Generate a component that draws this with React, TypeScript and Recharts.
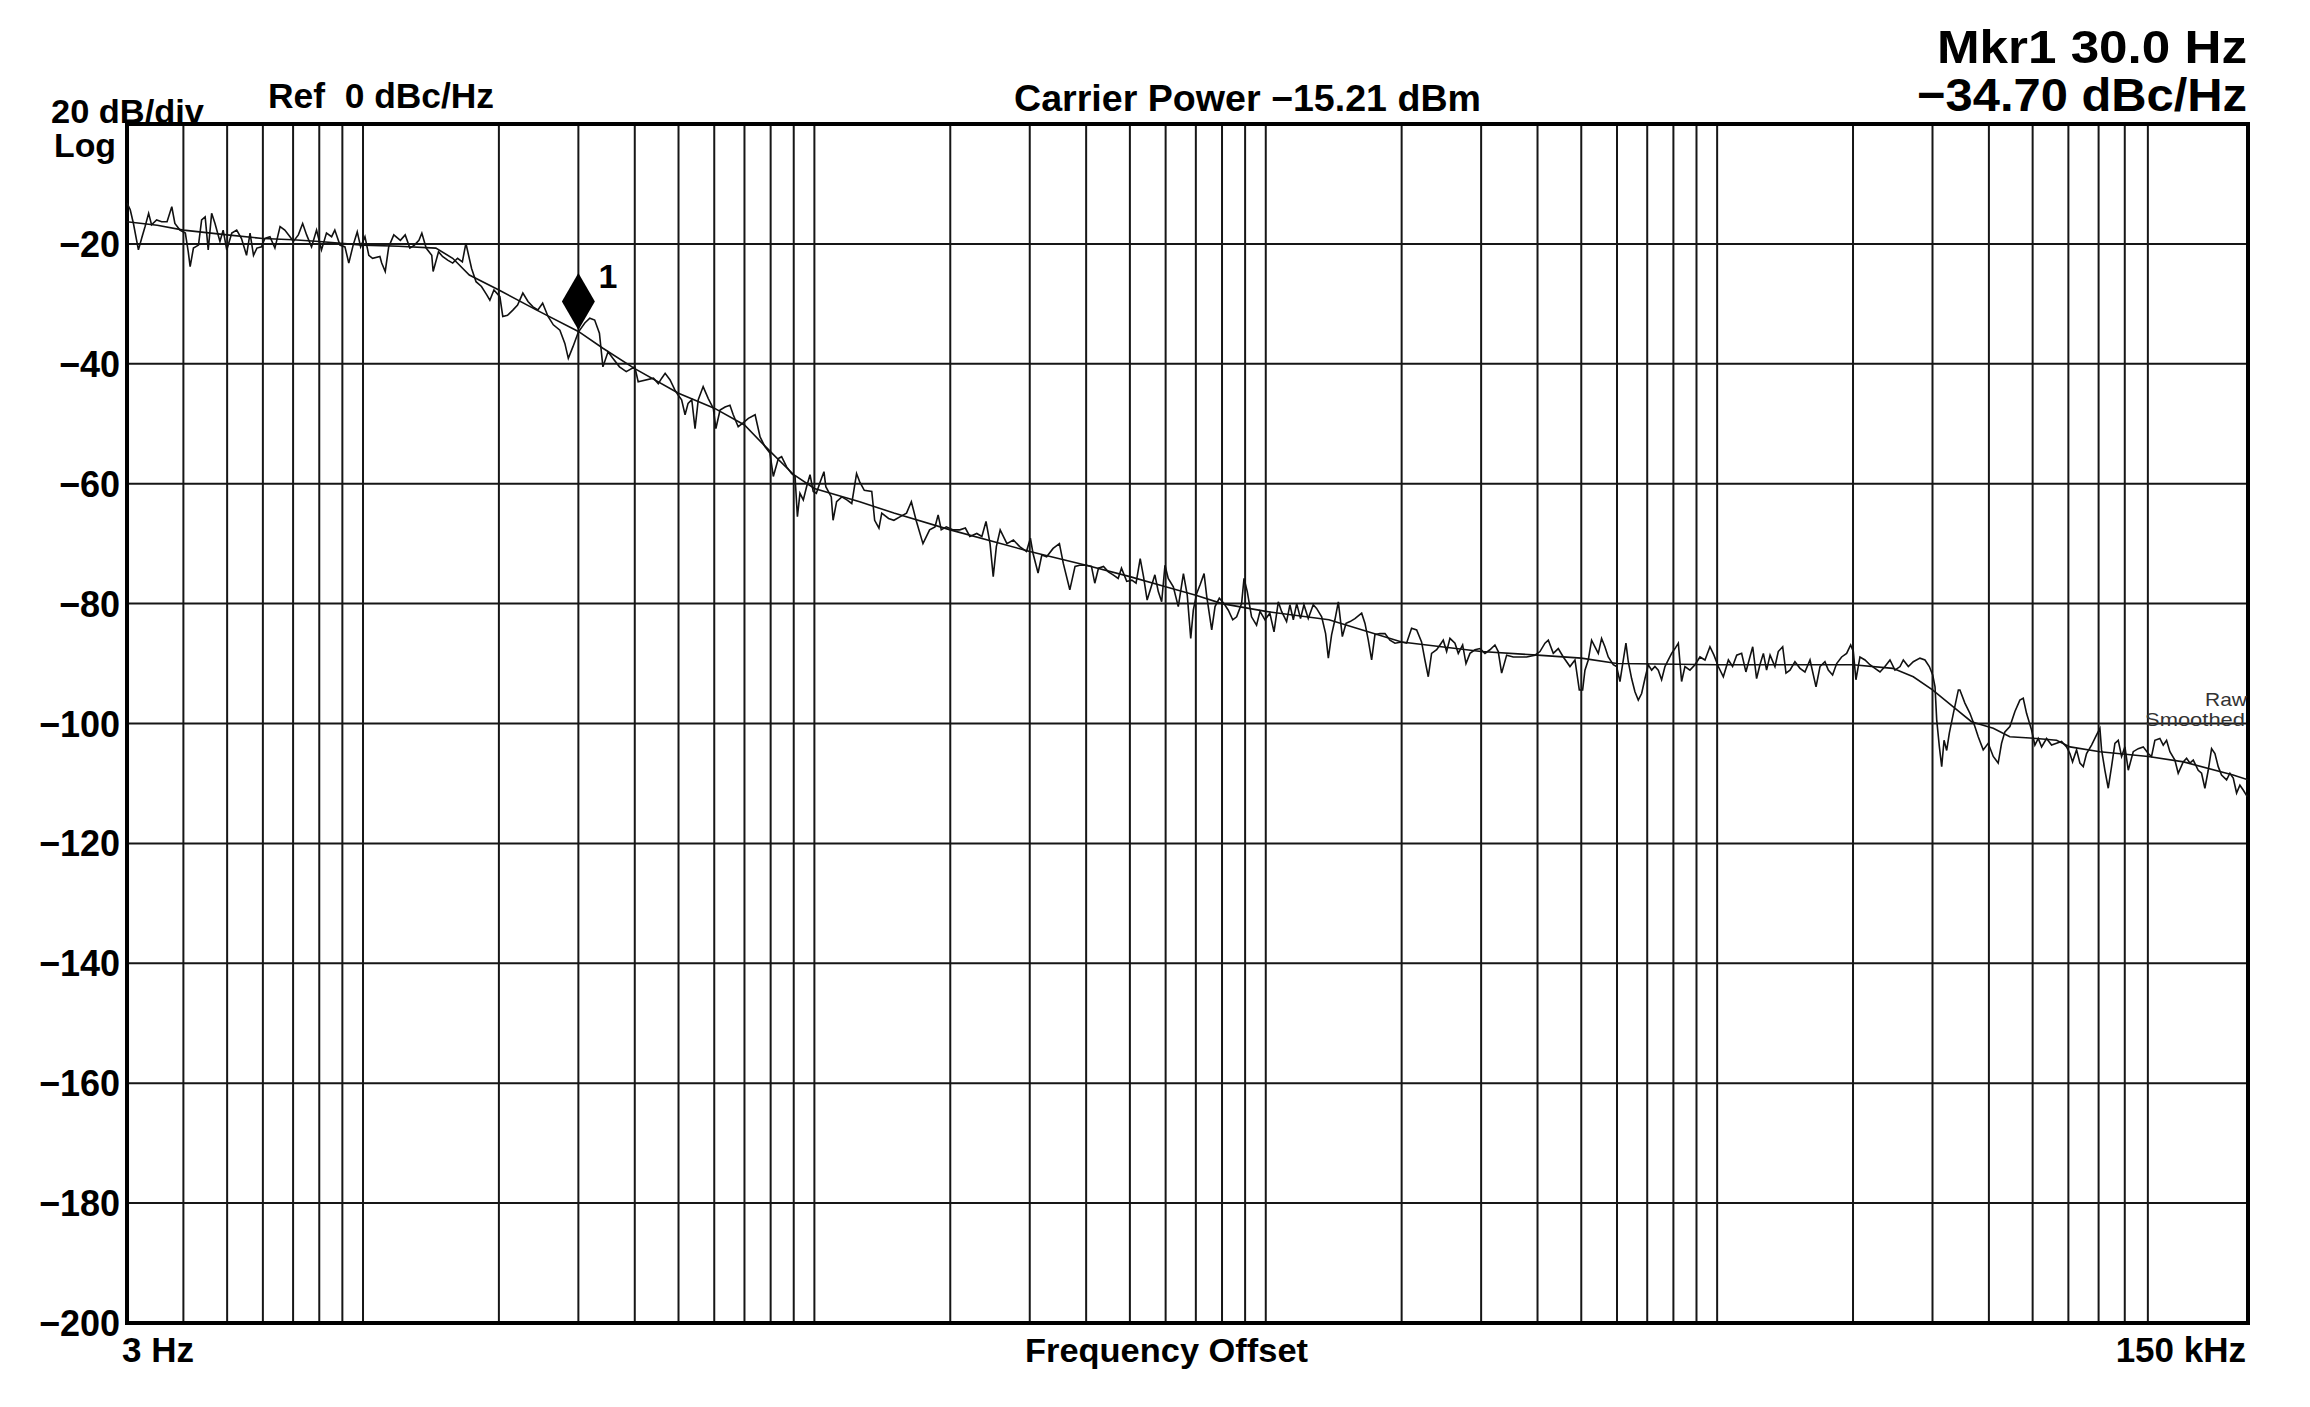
import React from 'react';
import {
  LineChart,
  Line,
  XAxis,
  YAxis,
  CartesianGrid,
  ReferenceArea,
  ReferenceDot,
} from 'recharts';

// raw trace, [offset Hz, dBc/Hz]
const rawTrace: [number, number][] = [
  [3.0, -13.2], [3.05, -14.3], [3.1, -16.6], [3.18, -21.0], [3.24, -18.8], [3.29, -17.1],
  [3.35, -14.9], [3.4, -16.8], [3.49, -16.0], [3.58, -16.3], [3.68, -16.3], [3.77, -13.8],
  [3.83, -16.6], [3.93, -17.7], [4.04, -18.2], [4.1, -21.3], [4.14, -23.8], [4.21, -20.7],
  [4.32, -20.2], [4.39, -16.0], [4.47, -15.5], [4.54, -21.0], [4.62, -14.9], [4.7, -16.6],
  [4.82, -19.6], [4.9, -17.7], [4.99, -21.0], [5.12, -18.2], [5.25, -17.7], [5.38, -19.1],
  [5.52, -21.9], [5.62, -18.2], [5.72, -21.9], [5.82, -20.7], [5.96, -20.5], [6.06, -19.1],
  [6.22, -18.8], [6.38, -20.7], [6.55, -17.1], [6.71, -17.7], [6.89, -18.8], [7.01, -19.6],
  [7.19, -18.5], [7.35, -16.6], [7.5, -18.5], [7.69, -20.5], [7.89, -17.7], [8.09, -21.0],
  [8.3, -18.2], [8.52, -18.8], [8.66, -17.7], [8.89, -20.2], [9.12, -20.5], [9.3, -23.2],
  [9.51, -20.2], [9.71, -18.0], [9.88, -20.5], [10.1, -18.8], [10.3, -21.9], [10.5, -22.4],
  [10.9, -22.1], [11.0, -23.2], [11.2, -24.6], [11.4, -20.5], [11.7, -18.5], [12.1, -19.4],
  [12.4, -18.5], [12.7, -20.7], [13.0, -20.2], [13.3, -19.4], [13.5, -18.2], [13.8, -20.7],
  [14.2, -21.9], [14.3, -24.6], [14.7, -21.3], [15.0, -22.1], [15.4, -22.7], [15.8, -23.2],
  [16.2, -22.4], [16.6, -23.0], [16.9, -19.9], [17.4, -24.1], [17.8, -26.3], [18.3, -27.1],
  [18.8, -28.5], [19.1, -29.4], [19.5, -27.7], [20.1, -28.8], [20.4, -32.1], [20.9, -31.9],
  [21.5, -31.0], [22.0, -30.2], [22.6, -28.2], [23.2, -29.6], [23.8, -30.5], [24.4, -31.0],
  [25.0, -29.9], [25.7, -32.1], [26.4, -33.5], [27.3, -34.4], [28.0, -36.6], [28.5, -39.1],
  [29.2, -37.1], [30.0, -34.7], [31.0, -33.2], [31.8, -32.4], [32.6, -32.7], [33.4, -34.9],
  [34.0, -40.5], [34.9, -38.0], [35.8, -39.1], [37.0, -40.5], [38.3, -41.3], [40.0, -40.5],
  [40.7, -43.0], [44.0, -42.4], [45.1, -43.3], [45.9, -42.4], [46.7, -41.6], [47.9, -42.7],
  [49.1, -44.4], [49.9, -45.2], [50.8, -46.0], [51.7, -48.5], [52.5, -46.6], [53.5, -46.0],
  [54.4, -50.8], [55.3, -46.0], [56.7, -43.8], [58.2, -45.8], [59.7, -47.4], [60.5, -50.8],
  [61.8, -47.7], [63.4, -47.2], [65.0, -46.9], [66.1, -48.5], [67.8, -50.5], [69.4, -49.9],
  [71.4, -49.1], [73.9, -48.5], [75.8, -52.2], [77.7, -53.8], [79.7, -54.9], [81.1, -58.8],
  [83.2, -55.8], [84.6, -55.5], [86.8, -57.2], [89.0, -58.3], [90.6, -58.8], [91.7, -65.5],
  [92.9, -61.6], [94.5, -62.7], [96.1, -60.5], [97.8, -58.5], [99.4, -61.3], [101, -61.6],
  [103, -59.7], [105, -58.0], [106, -60.5], [109, -62.2], [110, -66.1], [112, -63.0],
  [115, -62.2], [118, -62.7], [121, -63.3], [124, -58.3], [126, -59.7], [129, -61.1],
  [134, -61.3], [136, -66.1], [139, -67.4], [141, -64.9], [146, -65.8], [150, -66.1],
  [155, -65.5], [160, -64.9], [164, -63.0], [168, -66.1], [174, -70.0], [180, -67.7],
  [185, -67.2], [188, -65.2], [191, -67.7], [196, -67.2], [203, -67.7], [210, -67.7],
  [216, -67.4], [221, -68.8], [229, -68.3], [235, -68.8], [240, -66.3], [245, -70.0],
  [249, -75.5], [253, -70.5], [258, -67.7], [267, -70.0], [276, -69.4], [285, -70.5],
  [295, -71.3], [301, -69.1], [305, -71.6], [313, -74.9], [319, -71.9], [327, -72.2],
  [338, -70.8], [349, -70.0], [356, -73.3], [368, -77.7], [378, -73.8], [387, -73.6],
  [401, -73.6], [411, -73.8], [418, -76.6], [426, -74.1], [437, -73.8], [448, -74.7],
  [459, -75.2], [471, -75.8], [479, -74.1], [492, -76.3], [505, -76.1], [516, -76.6],
  [527, -72.5], [536, -75.5], [546, -79.4], [559, -76.9], [568, -75.2], [578, -78.0],
  [588, -79.7], [598, -73.6], [608, -75.8], [624, -77.2], [640, -80.5], [657, -75.0],
  [670, -78.6], [682, -85.8], [691, -81.1], [703, -78.3], [715, -76.9], [730, -75.0],
  [740, -78.8], [759, -84.4], [772, -80.5], [789, -79.1], [808, -80.0], [826, -81.1],
  [845, -82.7], [862, -82.2], [884, -80.0], [895, -75.8], [910, -78.0], [930, -82.2],
  [954, -83.6], [971, -81.3], [996, -82.7], [1021, -81.6], [1043, -84.7], [1066, -79.7],
  [1084, -81.3], [1112, -83.0], [1131, -80.2], [1151, -82.7], [1171, -80.0], [1194, -82.5],
  [1215, -80.2], [1242, -82.5], [1274, -80.2], [1296, -80.8], [1330, -82.2], [1357, -85.0],
  [1376, -89.1], [1399, -85.2], [1423, -82.7], [1448, -79.7], [1478, -85.5], [1506, -83.3],
  [1537, -83.0], [1576, -82.5], [1631, -81.6], [1659, -83.3], [1687, -86.1], [1716, -89.4],
  [1745, -85.2], [1790, -85.0], [1837, -85.0], [1884, -86.1], [1933, -86.6], [2000, -86.4],
  [2051, -86.6], [2104, -84.1], [2159, -84.4], [2214, -86.4], [2252, -89.4], [2291, -92.2],
  [2330, -88.3], [2391, -87.7], [2432, -86.9], [2473, -86.1], [2516, -88.0], [2559, -85.8],
  [2625, -86.6], [2670, -88.3], [2730, -86.9], [2777, -90.0], [2834, -88.3], [2907, -87.7],
  [2982, -87.5], [3059, -88.3], [3138, -87.7], [3219, -86.9], [3274, -88.0], [3331, -91.6],
  [3417, -88.6], [3535, -88.9], [3657, -88.9], [3784, -88.9], [3948, -88.6], [4050, -88.0],
  [4155, -86.6], [4226, -86.1], [4335, -88.3], [4447, -87.5], [4562, -88.9], [4720, -90.5],
  [4842, -89.4], [4950, -94.4], [5035, -94.4], [5095, -91.1], [5182, -89.4], [5271, -86.1],
  [5362, -87.2], [5454, -88.3], [5546, -85.8], [5641, -87.2], [5738, -88.9], [5887, -90.2],
  [5988, -90.5], [6091, -93.0], [6196, -89.4], [6280, -86.6], [6356, -89.7], [6464, -92.5],
  [6575, -94.7], [6688, -96.1], [6803, -95.0], [6920, -92.5], [7039, -90.2], [7160, -91.1],
  [7281, -90.5], [7406, -91.1], [7533, -92.7], [7663, -90.5], [7795, -89.4], [7928, -88.3],
  [8065, -87.5], [8203, -86.6], [8342, -93.0], [8486, -90.5], [8705, -91.1], [8931, -90.2],
  [9162, -88.9], [9399, -89.4], [9640, -87.2], [9839, -88.6], [10060, -90.5], [10320, -92.2],
  [10590, -89.4], [10820, -90.5], [11050, -88.6], [11330, -88.3], [11580, -91.4], [11820, -88.9],
  [11990, -87.2], [12230, -92.5], [12440, -90.2], [12660, -88.3], [12870, -91.1], [13100, -88.6],
  [13430, -90.5], [13660, -88.0], [13970, -87.2], [14210, -91.6], [14500, -91.1], [14870, -89.7],
  [15260, -90.8], [15650, -91.4], [16060, -89.4], [16560, -93.9], [16900, -90.5], [17330, -89.7],
  [17630, -91.1], [18020, -91.9], [18400, -90.0], [18870, -88.9], [19360, -88.3], [19760, -86.9],
  [20030, -88.0], [20300, -92.7], [20720, -88.9], [21260, -89.4], [21800, -90.2], [22370, -90.8],
  [22950, -91.4], [23540, -90.5], [24150, -89.4], [24770, -91.1], [25420, -90.5], [25850, -89.4],
  [26520, -90.5], [27200, -89.7], [28140, -89.1], [28870, -89.4], [29520, -90.5], [30030, -91.9],
  [30390, -93.9], [30650, -99.4], [31070, -103.9], [31440, -107.2], [31820, -102.8], [32250, -104.5],
  [32690, -101.6], [33370, -98.3], [34230, -94.4], [34500, -94.4], [35390, -96.6], [36310, -98.3],
  [37240, -100.5], [37880, -102.2], [38860, -104.4], [39860, -103.3], [40900, -105.5], [41940, -106.6],
  [42670, -103.3], [43400, -101.4], [44520, -100.5], [45680, -98.0], [46850, -96.1], [47660, -95.8],
  [48470, -98.3], [49730, -101.1], [50580, -103.6], [51450, -102.5], [52340, -103.9], [53680, -102.5],
  [55070, -103.6], [56490, -103.3], [57950, -103.0], [59450, -103.9], [60470, -105.0], [61290, -106.4],
  [62560, -104.4], [63640, -106.6], [64730, -107.2], [65830, -105.0], [67530, -103.6], [69280, -101.9],
  [70470, -100.8], [71070, -104.4], [72290, -107.8], [73530, -110.8], [74780, -107.2], [76070, -103.3],
  [77380, -102.8], [78710, -105.5], [80060, -103.9], [81440, -107.8], [83530, -104.7], [85690, -104.2],
  [87900, -103.9], [90170, -105.0], [91700, -105.5], [93280, -102.8], [95690, -102.5], [97340, -103.6],
  [99010, -102.8], [100710, -104.7], [103300, -106.1], [105070, -108.3], [107790, -106.4], [109640, -105.8],
  [111530, -106.6], [113450, -106.1], [116360, -107.8], [118360, -108.3], [120390, -110.8], [122460, -107.8],
  [124570, -104.2], [126710, -105.0], [128860, -107.2], [131070, -108.6], [134470, -109.4], [136780, -108.3],
  [139130, -109.1], [141520, -111.6], [143920, -110.3], [146390, -111.1], [149420, -112.2],
];

// smoothed trace, [offset Hz, dBc/Hz]
const smoothedTrace: [number, number][] = [
  [3, -16.3], [3.5, -16.9], [4, -17.7], [5, -18.5], [6, -19.1], [7, -19.3], [8, -19.6],
  [10, -20.2], [12, -20.4], [14.5, -20.7], [15.8, -22.4], [17.2, -25.2], [20, -27.7],
  [24.2, -31.0], [30, -34.6], [34, -37.4], [40, -40.8], [50, -44.9], [60, -47.4], [70, -50.2],
  [80, -54.7], [90, -58.5], [100, -60.8], [126, -63.0], [150, -64.9], [200, -67.7], [300, -71.3],
  [400, -73.6], [500, -75.5], [600, -77.2], [700, -78.6], [800, -80.0], [1000, -81.3],
  [1380, -82.7], [2000, -86.4], [3000, -88.0], [4000, -88.6], [5000, -89.1], [6000, -90.0],
  [10000, -90.2], [20000, -90.2], [24500, -90.8], [27200, -92.2], [30000, -94.4], [33300, -97.2],
  [36600, -99.7], [40900, -100.8], [44500, -102.2], [51000, -102.5], [56500, -102.8],
  [60500, -103.9], [70500, -104.7], [90200, -105.5], [108000, -106.4], [139000, -108.6],
  [150000, -109.4],
];

// vertical grid (the analyzer leaves out the 100 kHz line)
const freqGrid = [
  3, 4, 5, 6, 7, 8, 9, 10, 20, 30, 40, 50, 60, 70, 80, 90,
  100, 200, 300, 400, 500, 600, 700, 800, 900,
  1000, 2000, 3000, 4000, 5000, 6000, 7000, 8000, 9000,
  10000, 20000, 30000, 40000, 50000, 60000, 70000, 80000, 90000, 150000,
];
const freqLabels: Record<number, string> = { 3: '3 Hz', 150000: '150 kHz' };
const levelTicks = [-200, -180, -160, -140, -120, -100, -80, -60, -40, -20, 0];

const marker1 = { freq: 30, level: -34.7, name: '1' };

const FONT = '"Liberation Sans", Arial, Helvetica, sans-serif';

const rawData = rawTrace.map(([f, v]) => ({ f, v }));
const smoothData = smoothedTrace.map(([f, v]) => ({ f, v }));

const LevelTick = (props: any) => {
  const { x, y, payload } = props;
  if (payload.value === 0) return <g />;
  return (
    <text x={x} y={y + 13} textAnchor="end" fontFamily={FONT} fontWeight="bold" fontSize={36} fill="#000">
      {`\u2212${Math.abs(payload.value)}`}
    </text>
  );
};

const FreqTick = (props: any) => {
  const { x, y, payload } = props;
  const label = freqLabels[payload.value];
  if (!label) return <g />;
  const right = payload.value > 1000;
  return (
    <text
      x={right ? x - 2 : x - 5}
      y={y + 39}
      textAnchor={right ? 'end' : 'start'}
      fontFamily={FONT}
      fontWeight="bold"
      fontSize={35}
      fill="#000"
    >
      {label}
    </text>
  );
};

const MarkerShape = (props: any) => {
  const { cx, cy } = props;
  return (
    <g>
      <polygon
        points={`${cx},${cy - 2} ${cx + 16.5},${cy - 30.5} ${cx},${cy - 59} ${cx - 16.5},${cy - 30.5}`}
        fill="#000"
      />
      <text x={cx + 20} y={cy - 44} fontFamily={FONT} fontWeight="bold" fontSize={34} fill="#000">
        {marker1.name}
      </text>
    </g>
  );
};

const txt = { fontFamily: FONT, fill: '#000' };

export default function App() {
  return (
    <div style={{ position: 'absolute', left: 0, top: 0, width: 2310, height: 1407, background: '#fff' }}>
      <LineChart width={2310} height={1407} margin={{ top: 124, right: 62, bottom: 44, left: 27 }}>
        <CartesianGrid stroke="#161616" strokeWidth={2} />
        <XAxis
          dataKey="f"
          type="number"
          scale="log"
          domain={[3, 150000]}
          ticks={freqGrid}
          interval={0}
          allowDataOverflow
          height={40}
          axisLine={false}
          tickLine={false}
          tickSize={0}
          tickMargin={0}
          tick={<FreqTick />}
        />
        <YAxis
          type="number"
          domain={[-200, 0]}
          ticks={levelTicks}
          interval={0}
          width={100}
          axisLine={false}
          tickLine={false}
          tickSize={0}
          tickMargin={7}
          tick={<LevelTick />}
        />
        <ReferenceArea x1={3} x2={150000} y1={-200} y2={0} fill="none" stroke="#000" strokeWidth={4} />
        <Line
          data={smoothData}
          dataKey="v"
          type="linear"
          stroke="#111"
          strokeWidth={1.6}
          dot={false}
          isAnimationActive={false}
        />
        <Line
          data={rawData}
          dataKey="v"
          type="linear"
          stroke="#111"
          strokeWidth={1.6}
          dot={false}
          isAnimationActive={false}
        />
        <ReferenceDot x={marker1.freq} y={marker1.level} shape={<MarkerShape />} />
      </LineChart>
      <svg
        width={2310}
        height={1407}
        style={{ position: 'absolute', left: 0, top: 0, pointerEvents: 'none' }}
      >
        <text {...txt} x={51} y={123} fontSize={33} fontWeight="bold" textLength={153} lengthAdjust="spacingAndGlyphs">
          20 dB/div
        </text>
        <text {...txt} x={54} y={157} fontSize={33} fontWeight="bold" textLength={62} lengthAdjust="spacingAndGlyphs">
          Log
        </text>
        <text {...txt} x={268} y={108} fontSize={35} fontWeight="bold" textLength={226} lengthAdjust="spacingAndGlyphs" style={{ whiteSpace: 'pre' }}>
          Ref  0 dBc/Hz
        </text>
        <text {...txt} x={1014} y={111} fontSize={36} fontWeight="bold" textLength={467} lengthAdjust="spacingAndGlyphs">
          Carrier Power {'\u2212'}15.21 dBm
        </text>
        <text {...txt} x={1937} y={63} fontSize={47} fontWeight="bold" textLength={310} lengthAdjust="spacingAndGlyphs">
          Mkr1 30.0 Hz
        </text>
        <text {...txt} x={1917} y={111} fontSize={47} fontWeight="bold" textLength={330} lengthAdjust="spacingAndGlyphs">
          {'\u2212'}34.70 dBc/Hz
        </text>
        <text {...txt} x={1025} y={1362} fontSize={34} fontWeight="bold" textLength={283} lengthAdjust="spacingAndGlyphs">
          Frequency Offset
        </text>
        <text {...txt} x={2205} y={706} fontSize={19} fill="#333" textLength={42} lengthAdjust="spacingAndGlyphs">
          Raw
        </text>
        <text {...txt} x={2145} y={726} fontSize={19} fill="#333" textLength={100} lengthAdjust="spacingAndGlyphs">
          Smoothed
        </text>
      </svg>
    </div>
  );
}
